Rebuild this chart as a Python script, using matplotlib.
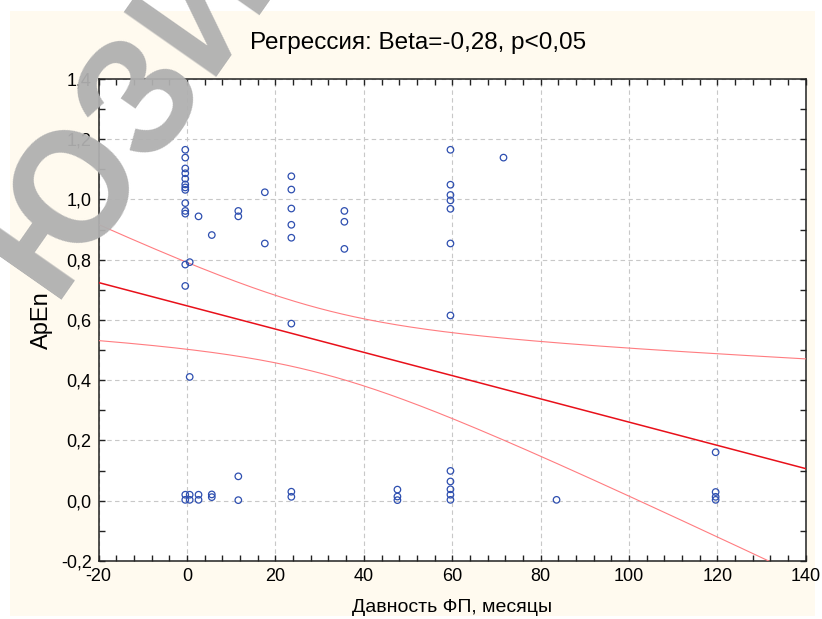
import numpy as np
import matplotlib
matplotlib.use("Agg")
import matplotlib.pyplot as plt
from matplotlib.patches import Rectangle
from matplotlib.ticker import FuncFormatter, MultipleLocator

# data: months since AF onset vs ApEn
months = [0] * 15 + [1] * 4 + [3] * 3 + [6] * 3 + [12] * 4 + [18] * 2 + [24] * 8 + [36] * 3 \
    + [48] * 3 + [60] * 12 + [72] + [84] + [120] * 4
apen = [1.165, 1.139, 1.103, 1.087, 1.069, 1.050, 1.040, 1.032, 0.988, 0.962, 0.953, 0.784, 0.713, 0.020, 0.003,
        0.792, 0.411, 0.020, 0.003,
        0.944, 0.020, 0.003,
        0.882, 0.021, 0.012,
        0.962, 0.944, 0.081, 0.002,
        1.024, 0.854,
        1.077, 1.033, 0.970, 0.916, 0.873, 0.588, 0.030, 0.013,
        0.962, 0.926, 0.836,
        0.037, 0.014, 0.002,
        1.165, 1.049, 1.015, 0.997, 0.969, 0.854, 0.615, 0.099, 0.064, 0.038, 0.020, 0.003,
        1.139,
        0.003,
        0.161, 0.029, 0.013, 0.003]

fit_intercept = 0.647
fit_slope = -0.00386
resid_sd = 0.425
t_crit = 2.0  # 95%, df ~ 61

title = "Регрессия: Beta=-0,28, p<0,05"
xlabel = "Давность ФП, месяцы"
ylabel = "ApEn"

plt.rcParams['font.family'] = ['Liberation Sans', 'DejaVu Sans']
plt.rcParams['axes.unicode_minus'] = False

x = np.array(months, dtype=float)
y = np.array(apen)
n = len(x)
sxx = np.sum((x - x.mean()) ** 2)

xx = np.linspace(-20, 140, 300)
yy = fit_intercept + fit_slope * xx
hw = t_crit * resid_sd * np.sqrt(1.0 / n + (xx - x.mean()) ** 2 / sxx)

fig = plt.figure(figsize=(8.22, 6.19), dpi=100, facecolor='white')
fig.patches.append(Rectangle((0.012, 0.005), 0.979, 0.977, transform=fig.transFigure,
                             facecolor='#fffaef', edgecolor='none', zorder=-10))
ax = fig.add_axes([0.12, 0.0937, 0.8603, 0.7787])
ax.set_facecolor('white')

ax.plot(xx, yy, color='#e8101a', lw=1.1, zorder=3)
ax.plot(xx, yy + hw, color='#ff7c80', lw=0.8, zorder=3)
ax.plot(xx, yy - hw, color='#ff7c80', lw=0.8, zorder=3)
ax.scatter(x - 0.4, y, s=22, facecolors='none', edgecolors='#2e4fb0', linewidths=0.9, zorder=4)

ax.set_xlim(-20, 140)
ax.set_ylim(-0.2, 1.4)
ax.xaxis.set_major_locator(MultipleLocator(20))
ax.xaxis.set_minor_locator(MultipleLocator(4))
ax.yaxis.set_major_locator(MultipleLocator(0.2))
ax.yaxis.set_minor_locator(MultipleLocator(0.1))
ax.yaxis.set_major_formatter(FuncFormatter(lambda v, p: f"{v:.1f}".replace('.', ',').replace('-0,0', '0,0')))
ax.tick_params(which='both', direction='in', top=True, right=True, labelsize=13, width=1, color='#222222')
ax.tick_params(which='major', length=4, pad=5)
ax.tick_params(which='minor', length=4)
ax.grid(True, which='major', color='#c8c8c8', ls=(0, (4, 3)), lw=0.8)
for sp in ax.spines.values():
    sp.set_linewidth(1.1)
    sp.set_color('#222222')

ax.set_xlabel(xlabel, fontsize=14, labelpad=10)
ax.set_ylabel(ylabel, fontsize=17, labelpad=6)
fig.text(0.508, 0.93, title, ha='center', va='center', fontsize=17.5)

# watermark
fig.text(0.155, 0.815, "ЮЗИ", fontsize=118, fontweight='bold', color='#b0b0b0', alpha=0.95,
         rotation=55, ha='center', va='center', zorder=20)

fig.savefig("out.png", dpi=100, facecolor=fig.get_facecolor())
